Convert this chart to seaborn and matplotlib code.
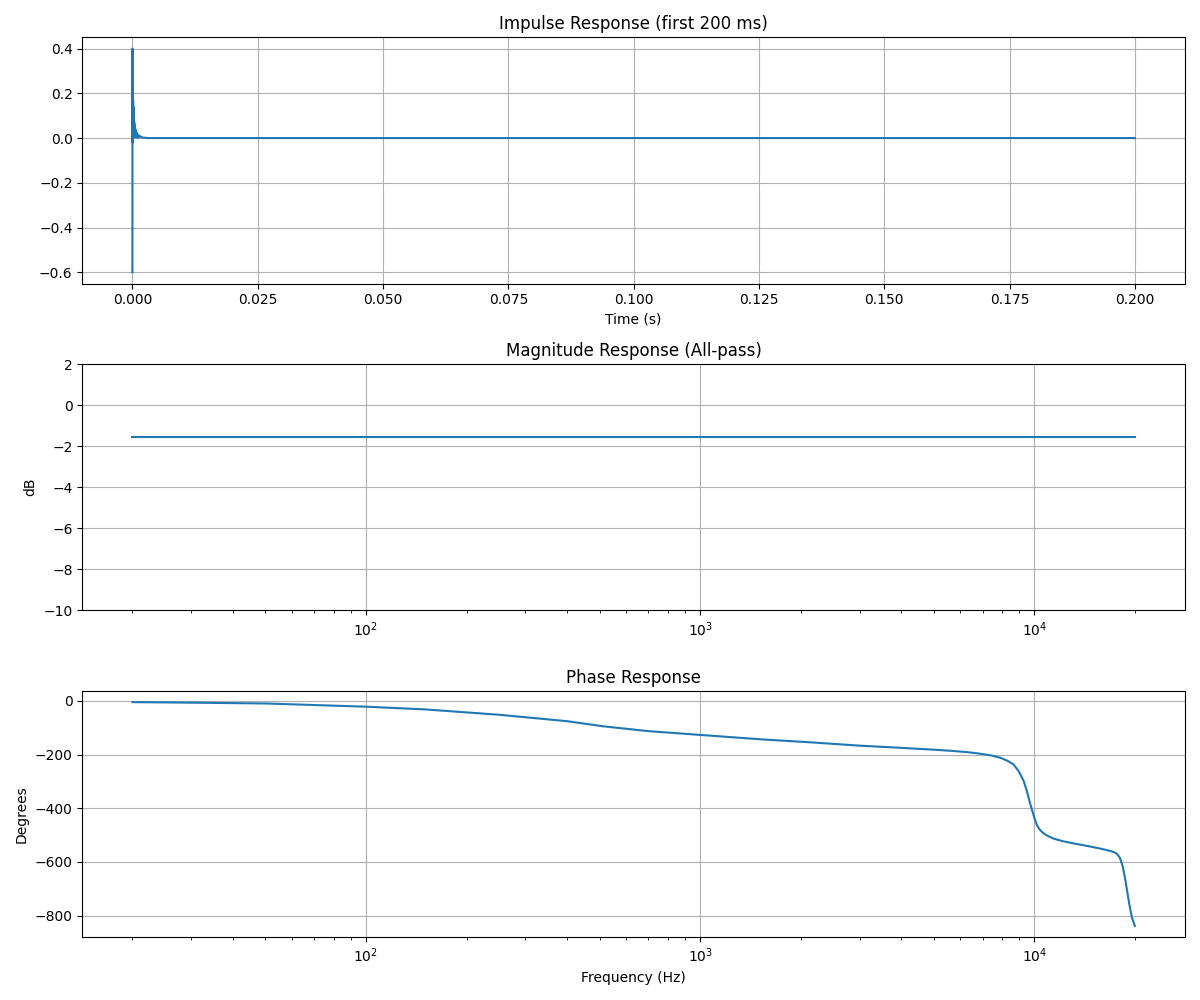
import matplotlib
matplotlib.use("Agg")
import matplotlib.pyplot as plt
import seaborn as sns

# Impulse response (time in s, amplitude)
imp_t = [0.0, 0.0000208, 0.0000417, 0.0000625, 0.0000833, 0.000104, 0.000125, 0.000146,
         0.000167, 0.000188, 0.000208, 0.000229, 0.00025, 0.000271, 0.000292, 0.000313,
         0.000333, 0.000354, 0.000375, 0.000396, 0.000417, 0.000458, 0.0005, 0.000542,
         0.000583, 0.000625, 0.000667, 0.00075, 0.000833, 0.000917, 0.001, 0.00115,
         0.0013, 0.0015, 0.0018, 0.0022, 0.003, 0.2]
imp_y = [-0.60, 0.40, -0.02, 0.29, 0.00, 0.22, 0.01, 0.17, 0.01, 0.14, 0.01, 0.12, 0.01,
         0.10, 0.01, 0.085, 0.01, 0.072, 0.005, 0.062, 0.005, 0.052, 0.004, 0.044, 0.004,
         0.036, 0.003, 0.028, 0.003, 0.021, 0.002, 0.015, 0.002, 0.009, 0.004, 0.002,
         0.0, 0.0]

# Magnitude response
mag_f = [20, 20000]
mag_db = [-1.56, -1.56]

# Phase response
ph_f = [20, 30, 50, 100, 150, 250, 400, 513, 700, 1000, 1500, 2163, 3000, 3970, 5000,
        5600, 6280, 6800, 7400, 7910, 8300, 8670, 9000, 9290, 9500, 9725, 10030, 10200,
        10420, 10650, 10900, 11420, 12200, 13120, 14500, 15750, 16500, 16900, 17280,
        17550, 17800, 18080, 18400, 18720, 19000, 19290, 19600, 20000]
ph_deg = [-5, -7, -10, -22, -32, -52, -76, -95, -113, -127, -143, -155, -167, -175, -182,
          -186, -191, -196, -203, -212, -223, -237, -264, -298, -336, -384, -440, -465,
          -482, -493, -501, -513, -523, -531, -541, -550, -556, -559, -563,
          -567, -574, -587, -617, -666, -715, -764, -807, -838]

fig, axes = plt.subplots(3, 1, figsize=(12, 10), dpi=100)
c = "#1f77b4"

ax = axes[0]
sns.lineplot(x=imp_t, y=imp_y, ax=ax, color=c, estimator=None, sort=False, linewidth=1.5)
ax.set_title("Impulse Response (first 200 ms)")
ax.set_xlabel("Time (s)")
ax.grid(True)

ax = axes[1]
sns.lineplot(x=mag_f, y=mag_db, ax=ax, color=c, estimator=None, linewidth=1.5)
ax.set_xscale("log")
ax.set_ylim(-10, 2)
ax.set_title("Magnitude Response (All-pass)")
ax.set_ylabel("dB")
ax.grid(True)

ax = axes[2]
sns.lineplot(x=ph_f, y=ph_deg, ax=ax, color=c, estimator=None, linewidth=1.5)
ax.set_xscale("log")
ax.set_title("Phase Response")
ax.set_xlabel("Frequency (Hz)")
ax.set_ylabel("Degrees")
ax.grid(True)

fig.tight_layout()
fig.savefig("out.png")
